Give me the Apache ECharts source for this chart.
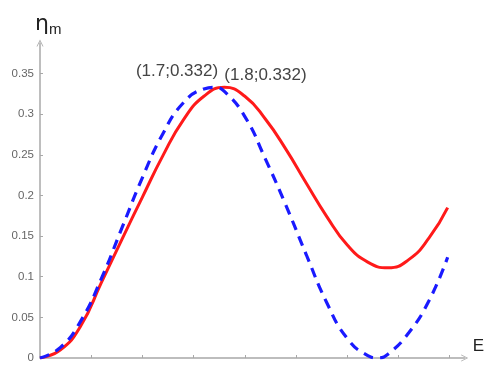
<!DOCTYPE html>
<html>
<head>
<meta charset="utf-8">
<script src="https://cdn.jsdelivr.net/npm/echarts@6/dist/echarts.min.js"></script>
<style>
  html, body { margin: 0; padding: 0; background: #fff; }
  #chart { width: 487px; height: 365px; }
</style>
</head>
<body>
<div id="chart"></div>
<script>
// red solid curve
const redE = [0, 0.2, 0.4, 0.6, 0.8, 1.0, 1.2, 1.4, 1.6, 1.8, 2.0, 2.2, 2.4, 2.6, 2.8, 3.0, 3.2, 3.4, 3.6, 3.8, 3.98];
const redEta = [0, 0.010, 0.040, 0.093, 0.146, 0.198, 0.249, 0.293, 0.322, 0.333, 0.322, 0.294, 0.257, 0.215, 0.174, 0.139, 0.118, 0.111, 0.121, 0.148, 0.185];

// blue dashed curve
const blueE = [0, 0.2, 0.4, 0.6, 0.8, 1.0, 1.2, 1.4, 1.6, 1.7, 1.8, 2.0, 2.2, 2.4, 2.6, 2.8, 3.0, 3.2, 3.3, 3.4, 3.6, 3.8, 3.98];
const blueEta = [0, 0.013, 0.046, 0.098, 0.160, 0.222, 0.276, 0.314, 0.331, 0.333, 0.328, 0.297, 0.245, 0.188, 0.127, 0.068, 0.024, 0.003, 0, 0.005, 0.031, 0.071, 0.124];

const yTicks = [0, 0.05, 0.1, 0.15, 0.2, 0.25, 0.3, 0.35];
const xTicks = [0.5, 1, 1.5, 2, 2.5, 3, 3.5, 4];

const peakBlue = [1.7, 0.332];
const peakRed = [1.8, 0.332];

const zip = (xs, ys) => xs.map((x, i) => [x, ys[i]]);

const chart = echarts.init(document.getElementById('chart'));

const arrow = 'path://M5,0 L10,10 L8.8,10 L5,2.4 L1.2,10 L0,10 Z';
const axisColor = '#a8a8a8';

const option = {
  animation: false,
  grid: { left: 40, right: 20, top: 43, bottom: 7 },
  xAxis: {
    type: 'value',
    min: 0,
    max: 4.146,
    name: 'E',
    nameLocation: 'end',
    nameGap: 8,
    nameTextStyle: {
      fontFamily: 'Liberation Sans',
      fontSize: 17,
      color: '#222',
      verticalAlign: 'bottom',
      padding: [0, 0, 3, 0]
    },
    axisLine: {
      lineStyle: { color: axisColor, width: 1.5 },
      symbol: ['none', arrow],
      symbolSize: [7, 10]
    },
    axisTick: { show: true, inside: true, length: 3, customValues: xTicks, lineStyle: { color: axisColor } },
    axisLabel: { show: false },
    splitLine: { show: false }
  },
  yAxis: {
    type: 'value',
    min: 0,
    max: 0.3875,
    name: '{a|η}{b|m}',
    nameLocation: 'end',
    nameGap: 6,
    nameTextStyle: {
      align: 'left',
      padding: [0, 0, 0, -5],
      rich: {
        a: { fontFamily: 'DejaVu Sans', fontSize: 22, color: '#222' },
        b: { fontFamily: 'Liberation Sans', fontSize: 15, color: '#222', padding: [10, 0, 0, 0] }
      }
    },
    axisLine: {
      show: true,
      lineStyle: { color: axisColor, width: 1.5 },
      symbol: ['none', arrow],
      symbolSize: [7, 10]
    },
    axisTick: { show: true, inside: true, length: 3, customValues: yTicks, lineStyle: { color: axisColor } },
    axisLabel: {
      customValues: yTicks,
      fontFamily: 'Liberation Sans',
      fontSize: 11.5,
      color: '#666',
      margin: 6
    },
    splitLine: { show: false }
  },
  series: [
    {
      name: 'red',
      type: 'line',
      data: zip(redE, redEta),
      smooth: true,
      showSymbol: false,
      lineStyle: { color: '#ff1a1a', width: 3 },
      z: 2,
      markPoint: {
        symbol: 'circle',
        symbolSize: 0,
        data: [{ coord: peakRed }],
        label: {
          show: true,
          position: [0, 0],
          formatter: '(' + peakRed[0] + ';' + peakRed[1] + ')',
          align: 'left',
          verticalAlign: 'bottom',
          offset: [0, -4],
          fontFamily: 'Liberation Sans',
          fontSize: 17,
          color: '#444'
        }
      }
    },
    {
      name: 'blue',
      type: 'line',
      data: zip(blueE, blueEta),
      smooth: true,
      showSymbol: false,
      lineStyle: { color: '#1a1aff', width: 3.2, type: [10, 7] },
      z: 3,
      markPoint: {
        symbol: 'circle',
        symbolSize: 0,
        data: [{ coord: peakBlue }],
        label: {
          show: true,
          position: [0, 0],
          formatter: '(' + peakBlue[0] + ';' + peakBlue[1] + ')',
          align: 'right',
          verticalAlign: 'bottom',
          offset: [4, -8],
          fontFamily: 'Liberation Sans',
          fontSize: 17,
          color: '#444'
        }
      }
    }
  ]
};

chart.setOption(option);
</script>
</body>
</html>
